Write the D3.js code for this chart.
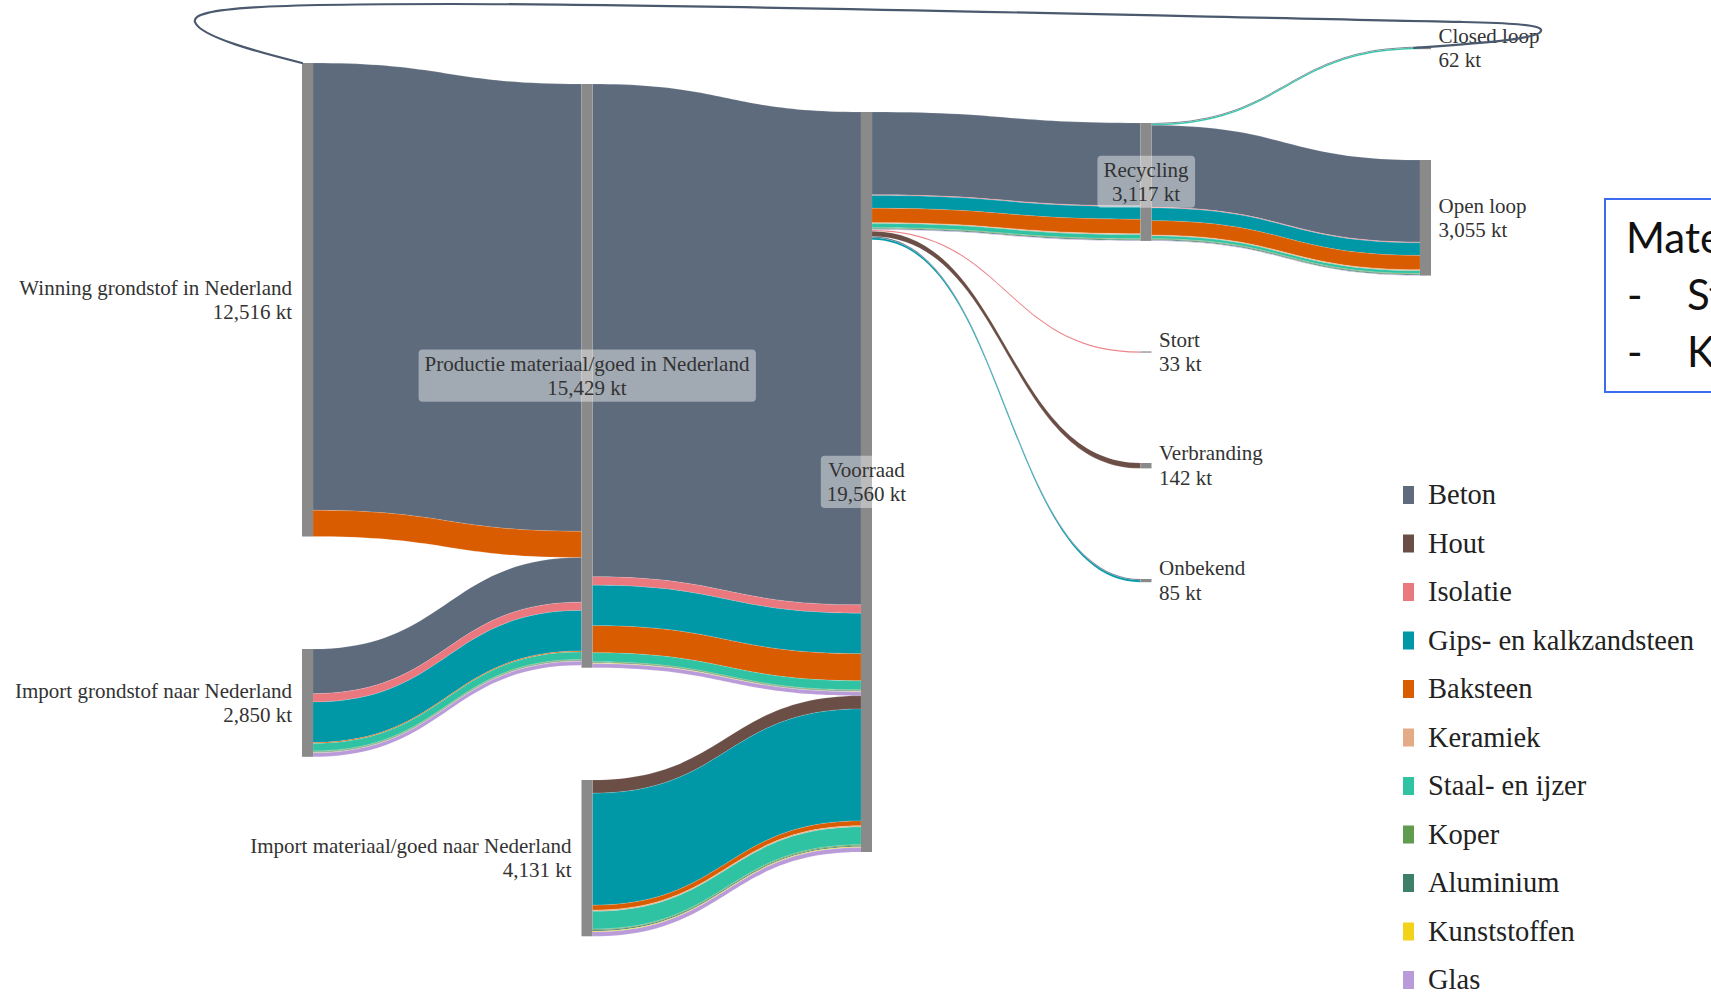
<!DOCTYPE html>
<html>
<head>
<meta charset="utf-8">
<script src="https://cdn.jsdelivr.net/npm/d3@7"></script>
<style>
html,body{margin:0;padding:0;background:#fff;overflow:hidden;}
svg{display:block;}
</style>
</head>
<body>
<svg id="chart" width="1711" height="998"></svg>
<script>
// ---------------- DATA ----------------
const materials = ["Beton","Hout","Isolatie","Gips- en kalkzandsteen","Baksteen","Keramiek","Staal- en ijzer","Koper","Aluminium","Kunststoffen","Glas"];
const materialColors = ["#5d6b7d","#6b4e45","#e9787f","#0097a7","#d95c00","#e4ac86","#2fc3a4","#5f9c50","#3d7f69","#f3d21c","#b99bd9"];

const nodeNames = ["Winning grondstof in Nederland","Import grondstof naar Nederland","Productie materiaal/goed in Nederland","Import materiaal/goed naar Nederland","Voorraad","Recycling","Stort","Verbranding","Onbekend","Closed loop","Open loop"];
const nodeTotals = [12516, 2850, 15429, 4131, 19560, 3117, 33, 142, 85, 62, 3055];

// flows per material (kt), in the order of `materials`
const flowWinningProductie          = [11824,0,0,0,692,0,0,0,0,0,0];
const flowImportGrondstofProductie  = [1180,0,220,1070,25,0,200,20,20,10,105];
const flowProductieVoorraad         = [13027,0,220,1070,717,0,240,20,20,10,105];
const flowImportMateriaalVoorraad   = [0,350,0,2960,130,30,470,25,30,20,116];
const flowVoorraadRecycling         = [2190,0,20,335,380,25,110,20,25,0,12];
const flowVoorraadStort             = [0,0,33,0,0,0,0,0,0,0,0];
const flowVoorraadVerbranding       = [0,142,0,0,0,0,0,0,0,0,0];
const flowVoorraadOnbekend          = [30,0,0,55,0,0,0,0,0,0,0];
const flowRecyclingClosedLoop       = [22,0,0,0,0,0,40,0,0,0,0];
const flowRecyclingOpenLoop         = [2168,0,20,335,380,25,70,20,25,0,12];

const linkSources = [0,1,2,3,4,4,4,4,5,5];
const linkTargets = [2,2,4,4,5,6,7,8,9,10];
const linkFlows = [flowWinningProductie, flowImportGrondstofProductie, flowProductieVoorraad, flowImportMateriaalVoorraad,
  flowVoorraadRecycling, flowVoorraadStort, flowVoorraadVerbranding, flowVoorraadOnbekend, flowRecyclingClosedLoop, flowRecyclingOpenLoop];

const boxLines = ["Mate", "St", "K"];

// ---------------- LAYOUT ----------------
const nodeCol   = [0,0,1,1,2,3,3,3,3,4,4];
const nodeTop   = [63,649,84,780,112,123,351.4,463,579,46.8,160];
const labelSide = ["left","left","center","left","center","center","right","right","right","right","right"];
const nodeW = 11;

const svg = d3.select("#chart");
const x = d3.scaleLinear().domain([0,4]).range([302,1420]);
const h = d3.scaleLinear().domain([0,19560]).range([0,740]);
const color = d3.scaleOrdinal().domain(materials).range(materialColors);
const fmt = d3.format(",");

const nodes = nodeNames.map((name,i)=>({
  i, name, total: nodeTotals[i],
  x0: x(nodeCol[i]), x1: x(nodeCol[i]) + nodeW,
  y0: nodeTop[i], y1: nodeTop[i] + h(nodeTotals[i])
}));

const bands = [];
linkFlows.forEach((vals, li) => vals.forEach((v, m) => {
  if (v > 0) bands.push({s: nodes[linkSources[li]], t: nodes[linkTargets[li]], m, v, w: h(v)});
}));

nodes.forEach(n => {
  let off = n.y0;
  bands.filter(b => b.s === n).sort((a,b) => (a.t.y0 - b.t.y0) || (a.m - b.m))
    .forEach(b => { b.sy0 = off; off += b.w; b.sy1 = off; });
  off = n.y0;
  bands.filter(b => b.t === n).sort((a,b) => (a.s.y0 - b.s.y0) || (a.m - b.m))
    .forEach(b => { b.ty0 = off; off += b.w; b.ty1 = off; });
});

function bandPath(b) {
  const x0 = b.s.x1, x1 = b.t.x0, xm = (x0 + x1) / 2;
  const p = d3.path();
  p.moveTo(x0, b.sy0);
  p.bezierCurveTo(xm, b.sy0, xm, b.ty0, x1, b.ty0);
  p.lineTo(x1, b.ty1);
  p.bezierCurveTo(xm, b.ty1, xm, b.sy1, x0, b.sy1);
  p.closePath();
  return p.toString();
}

// links
svg.append("g").selectAll("path").data(bands).join("path")
  .attr("d", bandPath)
  .attr("fill", d => color(materials[d.m]))
  .attr("stroke", "rgba(255,255,255,0.35)")
  .attr("stroke-width", 0.4);

// nodes
svg.append("g").selectAll("rect").data(nodes).join("rect")
  .attr("x", d => d.x0).attr("y", d => d.y0)
  .attr("width", nodeW).attr("height", d => Math.max(1, d.y1 - d.y0))
  .attr("fill", "#8a8a8a");

// labels
const labelFont = "'Liberation Serif','Times New Roman',serif";
const lg = svg.append("g");
nodes.forEach((n, i) => {
  const side = labelSide[i];
  const cy = (n.y0 + n.y1) / 2;
  let tx, anchor;
  if (side === "left") { tx = n.x0 - 10; anchor = "end"; }
  else if (side === "right") { tx = n.x1 + 7.5; anchor = "start"; }
  else { tx = (n.x0 + n.x1) / 2; anchor = "middle"; }
  const g = lg.append("g");
  const t = g.append("text")
    .attr("x", tx).attr("y", cy)
    .attr("text-anchor", anchor)
    .attr("font-family", labelFont).attr("font-size", 21)
    .attr("fill", "#333");
  t.append("tspan").attr("x", tx).attr("dy", "-0.25em").text(n.name);
  t.append("tspan").attr("x", tx).attr("dy", "1.15em").text(fmt(n.total) + " kt");
  if (side === "center") {
    const bb = t.node().getBBox();
    g.insert("rect", "text")
      .attr("x", bb.x - 6).attr("y", bb.y - 2)
      .attr("width", bb.width + 12).attr("height", bb.height + 4)
      .attr("rx", 4).attr("fill", "rgba(255,255,255,0.42)");
  }
});

// closed-loop return annotation (hand-drawn style loop)
const cl = nodes[9], wn = nodes[0], pr = nodes[2];
const loopTop = 4, reachRight = 110, reachLeft = 107;
const R = cl.x1 + reachRight, cy0 = (cl.y0 + cl.y1) / 2;
const lp = d3.path();
lp.moveTo(cl.x0 - 6, cy0);
lp.bezierCurveTo(cl.x1 + 50, cy0 - 5, R - 2, cy0 - 9, R, cy0 - 17);
lp.bezierCurveTo(R + 3, cy0 - 24, R - 40, cy0 - 25, R - 80, cy0 - 26);
lp.bezierCurveTo(R - 380, loopTop + 12, pr.x0 + 120, loopTop, pr.x0 - 130, loopTop);
lp.bezierCurveTo(wn.x0 - 30, loopTop, wn.x0 - reachLeft - 5, loopTop + 3, wn.x0 - reachLeft, loopTop + 18);
lp.bezierCurveTo(wn.x0 - reachLeft + 5, loopTop + 33, wn.x0 - 40, wn.y0 - 10, wn.x0, wn.y0);
svg.append("path").attr("d", lp.toString())
  .attr("fill", "none").attr("stroke", "#4a596d").attr("stroke-width", 2.2)
  .attr("stroke-linecap", "round");

// legend
const legend = svg.append("g").attr("transform", "translate(1403,495)");
const ly = d3.scalePoint().domain(materials).range([0, 485]);
const li = legend.selectAll("g").data(materials).join("g")
  .attr("transform", d => `translate(0,${ly(d)})`);
li.append("rect").attr("x", 0).attr("y", -9).attr("width", 11).attr("height", 18)
  .attr("fill", d => color(d));
li.append("text").attr("x", 25).attr("y", 0).attr("dy", "0.33em")
  .attr("font-family", labelFont).attr("font-size", 28.5).attr("fill", "#222")
  .text(d => d);

// slide box at right edge
const box = svg.append("g");
box.append("rect").attr("x", 1605).attr("y", 199).attr("width", 140).attr("height", 193)
  .attr("fill", "#fff").attr("stroke", "#3b6cf0").attr("stroke-width", 2);
const boxFont = "Lato,'Open Sans',sans-serif";
box.append("text").attr("x", 1626).attr("y", 253).attr("font-family", boxFont)
  .attr("font-size", 42).attr("fill", "#111").text(boxLines[0]);
[1,2].forEach(k => {
  box.append("text").attr("x", 1627).attr("y", 253 + 57*k).attr("font-family", boxFont)
    .attr("font-size", 42).attr("fill", "#111").text("-");
  box.append("text").attr("x", 1687).attr("y", 253 + 57*k).attr("font-family", boxFont)
    .attr("font-size", 42).attr("fill", "#111").text(boxLines[k]);
});
</script>
</body>
</html>
